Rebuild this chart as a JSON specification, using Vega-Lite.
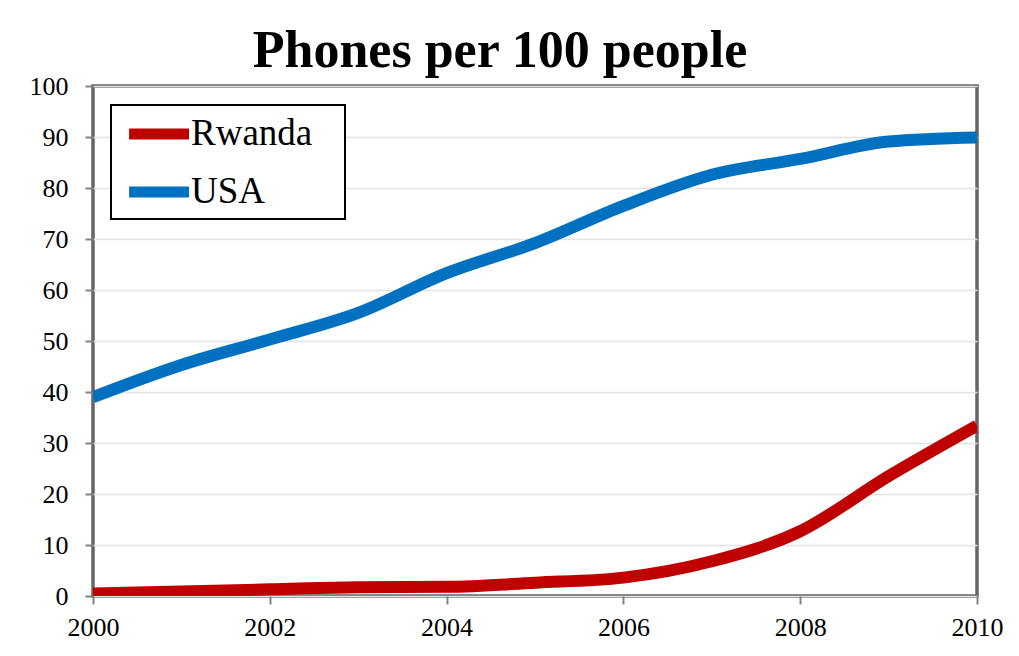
{
  "$schema": "https://vega.github.io/schema/vega-lite/v6.json",
  "width": 884,
  "height": 510,
  "autosize": {"type": "none"},
  "padding": {"left": 93, "top": 86, "right": 42, "bottom": 60},
  "background": "white",
  "title": {
    "text": "Phones per 100 people",
    "font": "Liberation Serif",
    "fontSize": 52,
    "fontWeight": "bold",
    "color": "black",
    "anchor": "middle",
    "dx": -35,
    "offset": -5
  },
  "data": {
    "values": [
      {"year": 2000, "country": "Rwanda", "value": 0.5},
      {"year": 2001, "country": "Rwanda", "value": 0.9},
      {"year": 2002, "country": "Rwanda", "value": 1.3},
      {"year": 2003, "country": "Rwanda", "value": 1.7},
      {"year": 2004, "country": "Rwanda", "value": 1.8},
      {"year": 2005, "country": "Rwanda", "value": 2.6},
      {"year": 2006, "country": "Rwanda", "value": 3.6},
      {"year": 2007, "country": "Rwanda", "value": 6.8},
      {"year": 2008, "country": "Rwanda", "value": 12.7},
      {"year": 2009, "country": "Rwanda", "value": 23.5},
      {"year": 2010, "country": "Rwanda", "value": 33.4},
      {"year": 2000, "country": "USA", "value": 39.0},
      {"year": 2001, "country": "USA", "value": 45.3},
      {"year": 2002, "country": "USA", "value": 50.3},
      {"year": 2003, "country": "USA", "value": 55.5},
      {"year": 2004, "country": "USA", "value": 63.3},
      {"year": 2005, "country": "USA", "value": 69.2},
      {"year": 2006, "country": "USA", "value": 76.5},
      {"year": 2007, "country": "USA", "value": 82.6},
      {"year": 2008, "country": "USA", "value": 85.7},
      {"year": 2009, "country": "USA", "value": 89.1},
      {"year": 2010, "country": "USA", "value": 89.9}
    ]
  },
  "mark": {"type": "line", "strokeWidth": 12, "interpolate": "monotone", "clip": true},
  "encoding": {
    "x": {
      "field": "year",
      "type": "quantitative",
      "scale": {"domain": [2000, 2010], "nice": false, "zero": false},
      "axis": {
        "title": null,
        "values": [2000, 2002, 2004, 2006, 2008, 2010],
        "format": "d",
        "grid": false,
        "labelFlush": false
      }
    },
    "y": {
      "field": "value",
      "type": "quantitative",
      "scale": {"domain": [0, 100], "nice": false},
      "axis": {
        "title": null,
        "values": [0, 10, 20, 30, 40, 50, 60, 70, 80, 90, 100],
        "grid": true
      }
    },
    "color": {
      "field": "country",
      "type": "nominal",
      "scale": {"domain": ["Rwanda", "USA"], "range": ["#c00000", "#0070c0"]},
      "legend": {
        "orient": "none",
        "legendX": 18,
        "legendY": 19,
        "title": null,
        "strokeColor": "black",
        "fillColor": "white",
        "padding": 5,
        "labelFont": "Liberation Serif",
        "labelFontSize": 37,
        "labelColor": "black",
        "labelOffset": 27,
        "labelExpr": "datum.label + '\u2800'",
        "symbolType": "M-0.59,0H2.65",
        "symbolSize": 1369,
        "symbolStrokeWidth": 11,
        "rowPadding": 12
      }
    }
  },
  "config": {
    "view": {"stroke": "#666666", "strokeWidth": 3.5},
    "legend": {"strokeWidth": 2},
    "axis": {
      "labelFont": "Liberation Serif",
      "labelFontSize": 26,
      "labelColor": "black",
      "domain": false,
      "tickColor": "#808080",
      "tickWidth": 2,
      "tickSize": 8,
      "gridColor": "#e3e3e3",
      "gridWidth": 1.5
    },
    "axisY": {"labelPadding": 17},
    "axisX": {"labelPadding": 10}
  }
}
